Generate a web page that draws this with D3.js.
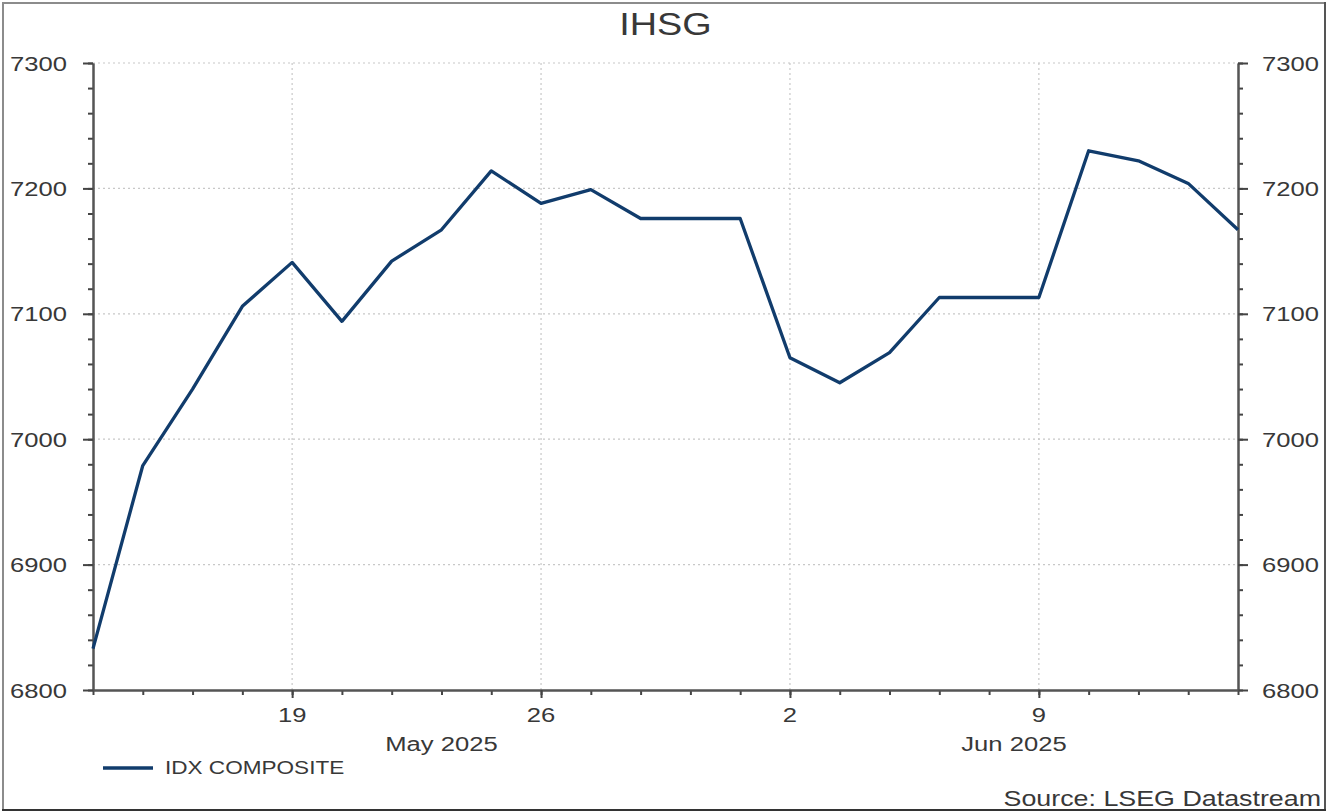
<!DOCTYPE html>
<html>
<head>
<meta charset="utf-8">
<script src="https://cdn.jsdelivr.net/npm/d3@7"></script>
<style>
  html, body { margin: 0; padding: 0; background: #fff; }
  svg { display: block; font-family: "Liberation Sans", Arial, sans-serif; }
</style>
</head>
<body>
<svg id="chart" width="1329" height="812"></svg>
<script>
// ---- data ----
const dates = ["2025-05-13","2025-05-14","2025-05-15","2025-05-16",
  "2025-05-19","2025-05-20","2025-05-21","2025-05-22","2025-05-23",
  "2025-05-26","2025-05-27","2025-05-28","2025-05-29","2025-05-30",
  "2025-06-02","2025-06-03","2025-06-04","2025-06-05","2025-06-06",
  "2025-06-09","2025-06-10","2025-06-11","2025-06-12","2025-06-13"];
const values = [6833, 6979, 7040, 7106,
  7141, 7094, 7142, 7167, 7214,
  7188, 7199, 7176, 7176, 7176,
  7065, 7045, 7069, 7113, 7113,
  7113, 7230, 7222, 7204, 7167];
const yTicks = [6800, 6900, 7000, 7100, 7200, 7300];
const xTickDates = ["2025-05-19","2025-05-26","2025-06-02","2025-06-09"];
const xTickLabels = ["19","26","2","9"];
const months = [
  {label: "May 2025", from: "2025-05-13", to: "2025-06-02"},
  {label: "Jun 2025", from: "2025-06-02", to: "2025-06-13"}
];
const title = "IHSG";
const seriesName = "IDX COMPOSITE";
const source = "Source: LSEG Datastream";

// ---- layout ----
const L = 93, R = 1238, T = 63, B = 690;
const SX = 1.22; // horizontal text stretch of the original
const textColor = "#383838";
const lineColor = "#113c6c";

const svg = d3.select("#chart");

// outer frame (light top/left, darker right/bottom)
const fr = svg.append("g").attr("stroke-width", 2);
fr.append("line").attr("x1", 2).attr("x2", 1326).attr("y1", 3).attr("y2", 3).attr("stroke", "#8c8c8c");
fr.append("line").attr("x1", 3).attr("x2", 3).attr("y1", 2).attr("y2", 810).attr("stroke", "#8c8c8c");
fr.append("line").attr("x1", 1325).attr("x2", 1325).attr("y1", 2).attr("y2", 811).attr("stroke", "#555");
fr.append("line").attr("x1", 2).attr("x2", 1326).attr("y1", 810).attr("y2", 810).attr("stroke", "#333");

const idx = d => dates.indexOf(d);
const x = d3.scaleLinear().domain([0, dates.length - 1]).range([L, R]);
const y = d3.scaleLinear().domain([6800, 7300]).range([B, T]);

function stext(g, px, py, str, size, anchor) {
  return g.append("text")
    .attr("transform", `translate(${px},${py}) scale(${SX},1)`)
    .attr("text-anchor", anchor)
    .attr("fill", textColor)
    .style("font-size", size + "px")
    .text(str);
}

// grid
const grid = svg.append("g");
grid.selectAll("line.h").data(yTicks.filter(v => v > 6800)).enter().append("line")
  .attr("x1", L).attr("x2", R).attr("y1", d => y(d)).attr("y2", d => y(d))
  .attr("stroke", "#c8c8c8").attr("stroke-width", 1.2).attr("stroke-dasharray", "2,3");
grid.selectAll("line.v").data(xTickDates).enter().append("line")
  .attr("x1", d => x(idx(d))).attr("x2", d => x(idx(d))).attr("y1", T).attr("y2", B)
  .attr("stroke", "#c8c8c8").attr("stroke-width", 1.2).attr("stroke-dasharray", "2,3");

// axes
const minorY = d3.range(6800, 7300.1, 20);
const axStyle = g => {
  g.selectAll("path.domain").attr("stroke", "#555").attr("stroke-width", 2);
  g.selectAll(".tick line").attr("stroke", "#444").attr("stroke-width", 2);
  g.selectAll("text").remove();
};
svg.append("g").attr("transform", `translate(${L},0)`)
  .call(d3.axisLeft(y).tickValues(minorY).tickSize(5).tickSizeOuter(0)).call(axStyle);
svg.append("g").attr("transform", `translate(${L},0)`)
  .call(d3.axisLeft(y).tickValues(yTicks).tickSize(10).tickSizeOuter(0)).call(axStyle);
svg.append("g").attr("transform", `translate(${R},0)`)
  .call(d3.axisRight(y).tickValues(minorY).tickSize(5).tickSizeOuter(0)).call(axStyle);
svg.append("g").attr("transform", `translate(${R},0)`)
  .call(d3.axisRight(y).tickValues(yTicks).tickSize(10).tickSizeOuter(0)).call(axStyle);
svg.append("g").attr("transform", `translate(0,${B})`)
  .call(d3.axisBottom(x).tickValues(d3.range(dates.length)).tickSize(5).tickSizeOuter(0)).call(axStyle);
svg.append("g").attr("transform", `translate(0,${B})`)
  .call(d3.axisBottom(x).tickValues(xTickDates.map(idx)).tickSize(8).tickSizeOuter(0)).call(axStyle);

// y labels
const lab = svg.append("g");
yTicks.forEach(v => {
  stext(lab, 67, y(v) + 7.5, String(v), 21, "end");
  stext(lab, 1262, y(v) + 7.5, String(v), 21, "start");
});
// x labels
xTickDates.forEach((d, i) => stext(lab, x(idx(d)), 722, xTickLabels[i], 21, "middle"));
months.forEach(m => stext(lab, (x(idx(m.from)) + x(idx(m.to))) / 2, 751, m.label, 21, "middle"));

// title
stext(lab, (L + R) / 2, 35, title, 31, "middle");

// line
const line = d3.line().x((d, i) => x(i)).y(d => y(d));
svg.append("path").datum(values).attr("d", line)
  .attr("fill", "none").attr("stroke", lineColor).attr("stroke-width", 3.3)
  .attr("stroke-linejoin", "round");

// legend
svg.append("line").attr("x1", 103).attr("x2", 153).attr("y1", 768).attr("y2", 768)
  .attr("stroke", lineColor).attr("stroke-width", 3.3);
stext(lab, 165, 774, seriesName, 18.5, "start");

// source
stext(lab, 1321, 806, source, 22, "end");
</script>
</body>
</html>
